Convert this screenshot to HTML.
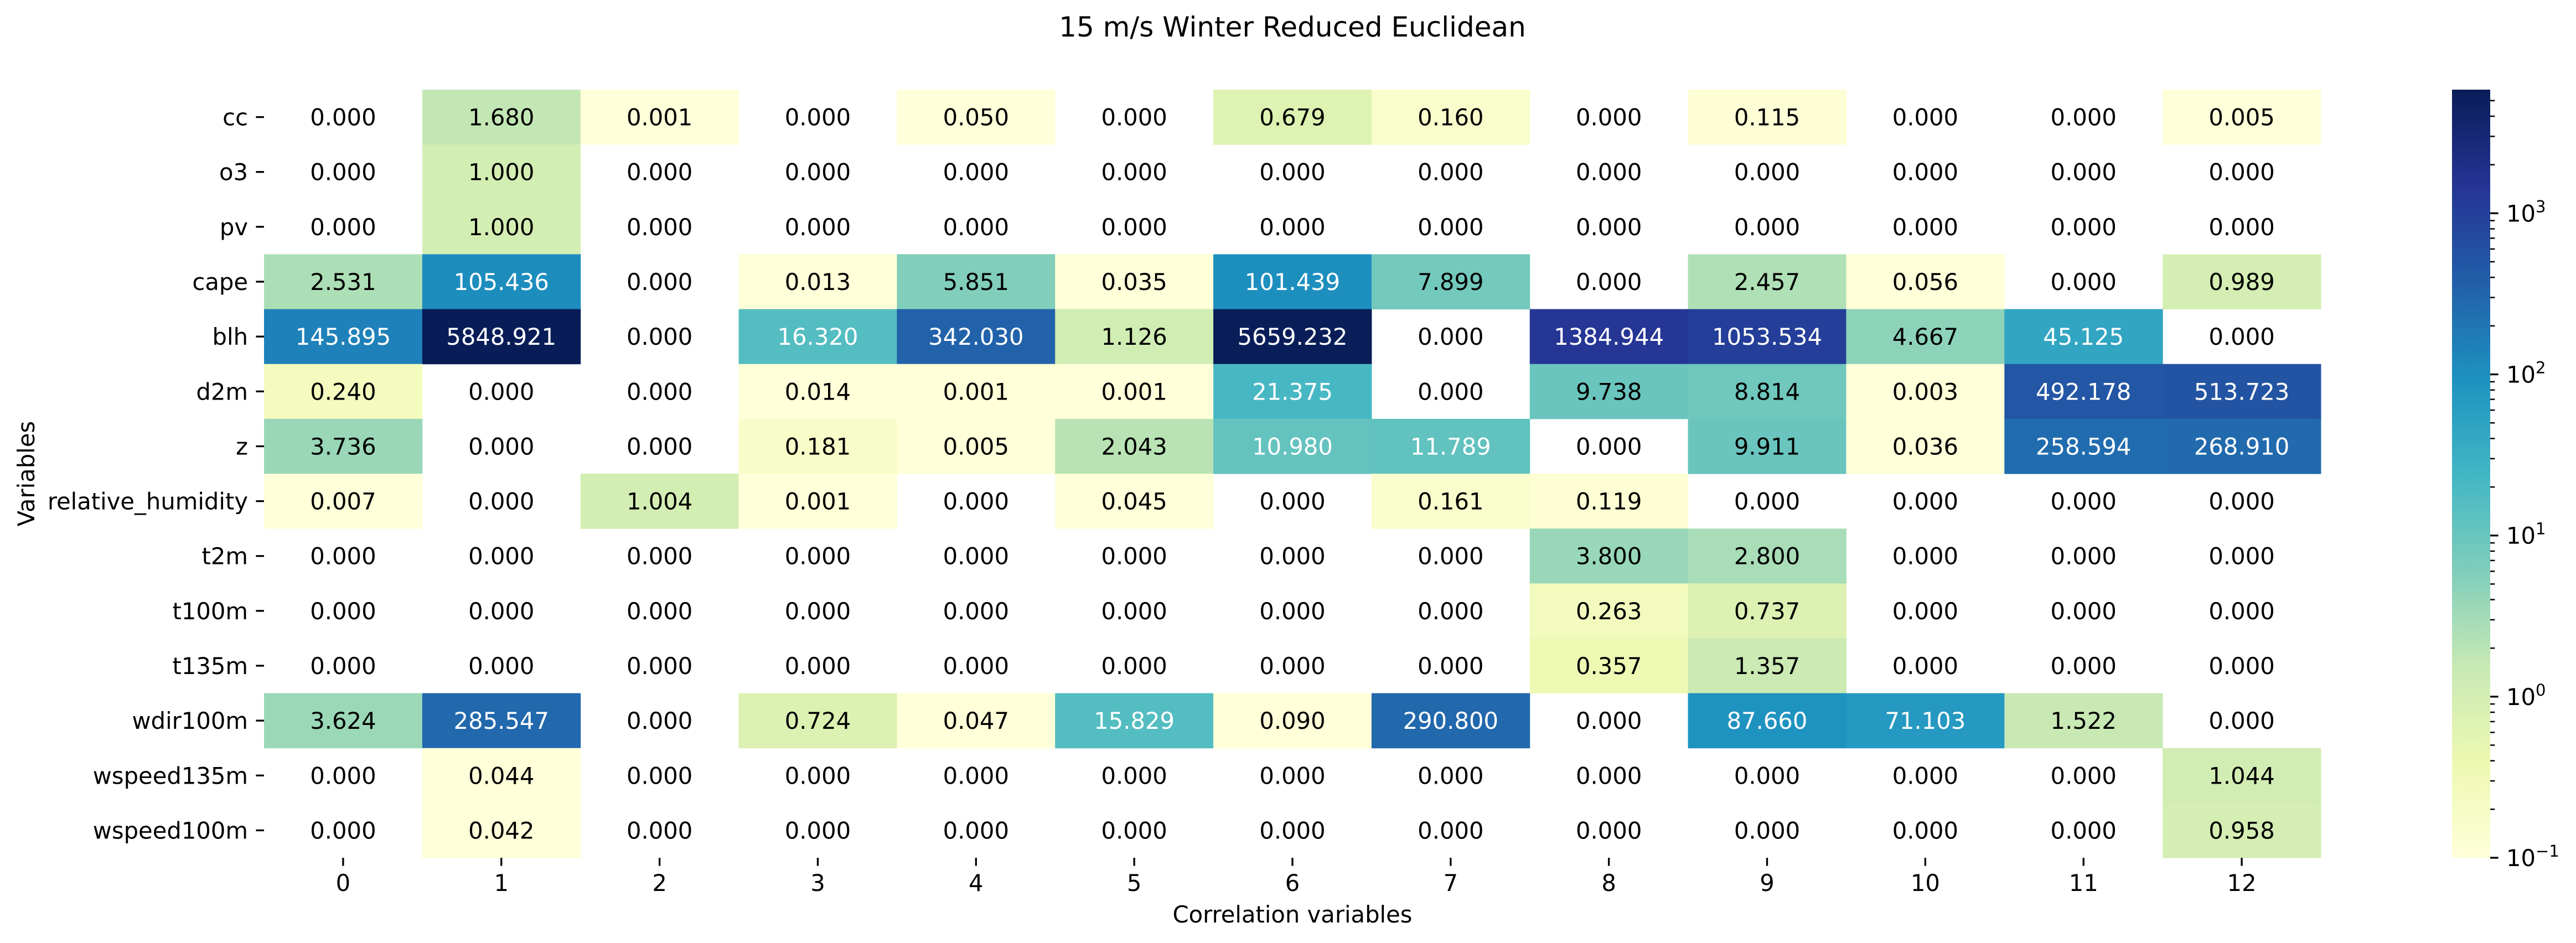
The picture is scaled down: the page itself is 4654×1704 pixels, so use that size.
<!DOCTYPE html>
<html><head><meta charset="utf-8"><style>
html,body{margin:0;padding:0;background:#fff;}
svg{display:block;font-family:"DejaVu Sans","Liberation Sans",sans-serif;}
</style></head><body>
<svg id="chart" width="4654" height="1704" viewBox="0 0 4654 1704" xmlns="http://www.w3.org/2000/svg">
<defs><linearGradient id="cbgrad" x1="0" y1="1" x2="0" y2="0">
<stop offset="0" stop-color="#ffffd9"/><stop offset="0.125" stop-color="#edf8b1"/><stop offset="0.25" stop-color="#c7e9b4"/><stop offset="0.375" stop-color="#7fcdbb"/><stop offset="0.5" stop-color="#41b6c4"/><stop offset="0.625" stop-color="#1d91c0"/><stop offset="0.75" stop-color="#225ea8"/><stop offset="0.875" stop-color="#253494"/><stop offset="1" stop-color="#081d58"/>
</linearGradient></defs>
<text x="2335" y="66" font-size="50" text-anchor="middle">15 m/s Winter Reduced Euclidean</text>
<g id="cells"></g>
<g id="yaxis"></g>
<g id="xaxis"></g>
<text x="2335" y="1667" font-size="41.7" text-anchor="middle">Correlation variables</text>
<text transform="translate(62,856) rotate(-90)" font-size="41.7" text-anchor="middle">Variables</text>
<g id="colorbar"></g>
</svg>
<script>
const rowLabels = ["cc","o3","pv","cape","blh","d2m","z","relative_humidity","t2m","t100m","t135m","wdir100m","wspeed135m","wspeed100m"];
const colLabels = ["0","1","2","3","4","5","6","7","8","9","10","11","12"];
const rowCc = [0,1.680,0.001,0,0.050,0,0.679,0.160,0,0.115,0,0,0.005];
const rowO3 = [0,1.000,0,0,0,0,0,0,0,0,0,0,0];
const rowPv = [0,1.000,0,0,0,0,0,0,0,0,0,0,0];
const rowCape = [2.531,105.436,0,0.013,5.851,0.035,101.439,7.899,0,2.457,0.056,0,0.989];
const rowBlh = [145.895,5848.921,0,16.320,342.030,1.126,5659.232,0,1384.944,1053.534,4.667,45.125,0];
const rowD2m = [0.240,0,0,0.014,0.001,0.001,21.375,0,9.738,8.814,0.003,492.178,513.723];
const rowZ = [3.736,0,0,0.181,0.005,2.043,10.980,11.789,0,9.911,0.036,258.594,268.910];
const rowRh = [0.007,0,1.004,0.001,0,0.045,0,0.161,0.119,0,0,0,0];
const rowT2m = [0,0,0,0,0,0,0,0,3.800,2.800,0,0,0];
const rowT100m = [0,0,0,0,0,0,0,0,0.263,0.737,0,0,0];
const rowT135m = [0,0,0,0,0,0,0,0,0.357,1.357,0,0,0];
const rowWdir = [3.624,285.547,0,0.724,0.047,15.829,0.090,290.800,0,87.660,71.103,1.522,0];
const rowWs135 = [0,0.044,0,0,0,0,0,0,0,0,0,0,1.044];
const rowWs100 = [0,0.042,0,0,0,0,0,0,0,0,0,0,0.958];
const values = [rowCc,rowO3,rowPv,rowCape,rowBlh,rowD2m,rowZ,rowRh,rowT2m,rowT100m,rowT135m,rowWdir,rowWs135,rowWs100];
const vmin = 0.1, vmax = 5848.921;
const cbExponents = [-1,0,1,2,3];

const NS="http://www.w3.org/2000/svg";
const L=477,R=4193,T=162,B=1550;
const cw=(R-L)/colLabels.length, rh=(B-T)/rowLabels.length;
const xPos=i=>L+i*cw, yPos=j=>T+j*rh;
const stops=["#ffffd9","#edf8b1","#c7e9b4","#7fcdbb","#41b6c4","#1d91c0","#225ea8","#253494","#081d58"].map(h=>[1,3,5].map(k=>parseInt(h.substr(k,2),16)));
function norm(v){let t=(Math.log10(v)-Math.log10(vmin))/(Math.log10(vmax)-Math.log10(vmin));return Math.max(0,Math.min(1,t));}
function cmap(t){const p=t*8,i=Math.min(7,Math.floor(p)),f=p-i;return stops[i].map((c,k)=>c+(stops[i+1][k]-c)*f);}
const whiteThresh = norm(10.5);
function el(tag,attrs,parent,txt){const e=document.createElementNS(NS,tag);for(const k in attrs)e.setAttribute(k,attrs[k]);if(txt!==undefined)e.textContent=txt;parent.appendChild(e);return e;}

const gc=document.getElementById('cells');
values.forEach((row,j)=>row.forEach((v,i)=>{
  let txtCol="#000";
  if(v>0){
    const c=cmap(norm(v));
    const r=el('rect',{x:xPos(i),y:yPos(j),width:cw+0.5,height:rh+0.5,fill:`rgb(${c.map(Math.round).join(',')})`},gc);
    
    
    txtCol=norm(v)>whiteThresh?"#fff":"#000";
  }
  const t=el('text',{x:xPos(i)+cw/2,y:yPos(j)+rh/2+15,'font-size':41.7,'text-anchor':'middle',fill:txtCol},gc,v.toFixed(3));
  
  
}));

const gy=document.getElementById('yaxis');
rowLabels.forEach((lab,j)=>{
  const yc=yPos(j)+rh/2;
  const tk=el('line',{x1:L-14.6,x2:L,y1:yc,y2:yc,stroke:"#000",'stroke-width':3.3},gy);
  
  
  const t=el('text',{x:L-29,y:yc+15,'font-size':41.7,'text-anchor':'end'},gy,lab);
  
  
});
const gx=document.getElementById('xaxis');
colLabels.forEach((lab,i)=>{
  const xc=xPos(i)+cw/2;
  const tk=el('line',{x1:xc,x2:xc,y1:B,y2:B+14.6,stroke:"#000",'stroke-width':3.3},gx);
  
  
  const t=el('text',{x:xc,y:B+60,'font-size':41.7,'text-anchor':'middle'},gx,lab);
  
  
});

const gcb=document.getElementById('colorbar');
const CX0=4430,CX1=4499;
const cbY=v=>B-norm(v)*(B-T);
const bar=el('rect',{x:CX0,y:T,width:CX1-CX0,height:B-T,fill:"url(#cbgrad)"},gcb);


cbExponents.forEach(e=>{
  const v=Math.pow(10,e),y=cbY(v);
  const tk=el('line',{x1:CX1,x2:CX1+14.6,y1:y,y2:y,stroke:"#000",'stroke-width':3.3},gcb);
  
  
  const t=el('text',{x:CX1+29,y:y+15,'font-size':41.7},gcb);
  
  
  el('tspan',{},t,'10');
  el('tspan',{dy:-17,'font-size':29},t,e<0?'\u2212'+(-e):String(e));
  for(let m=2;m<=9;m++){
    const mv=m*v; if(mv>vmax)break;
    const my=cbY(mv);
    const mt=el('line',{x1:CX1,x2:CX1+8.3,y1:my,y2:my,stroke:"#000",'stroke-width':2.5},gcb);
    
    
  }
});
</script>
</body></html>
